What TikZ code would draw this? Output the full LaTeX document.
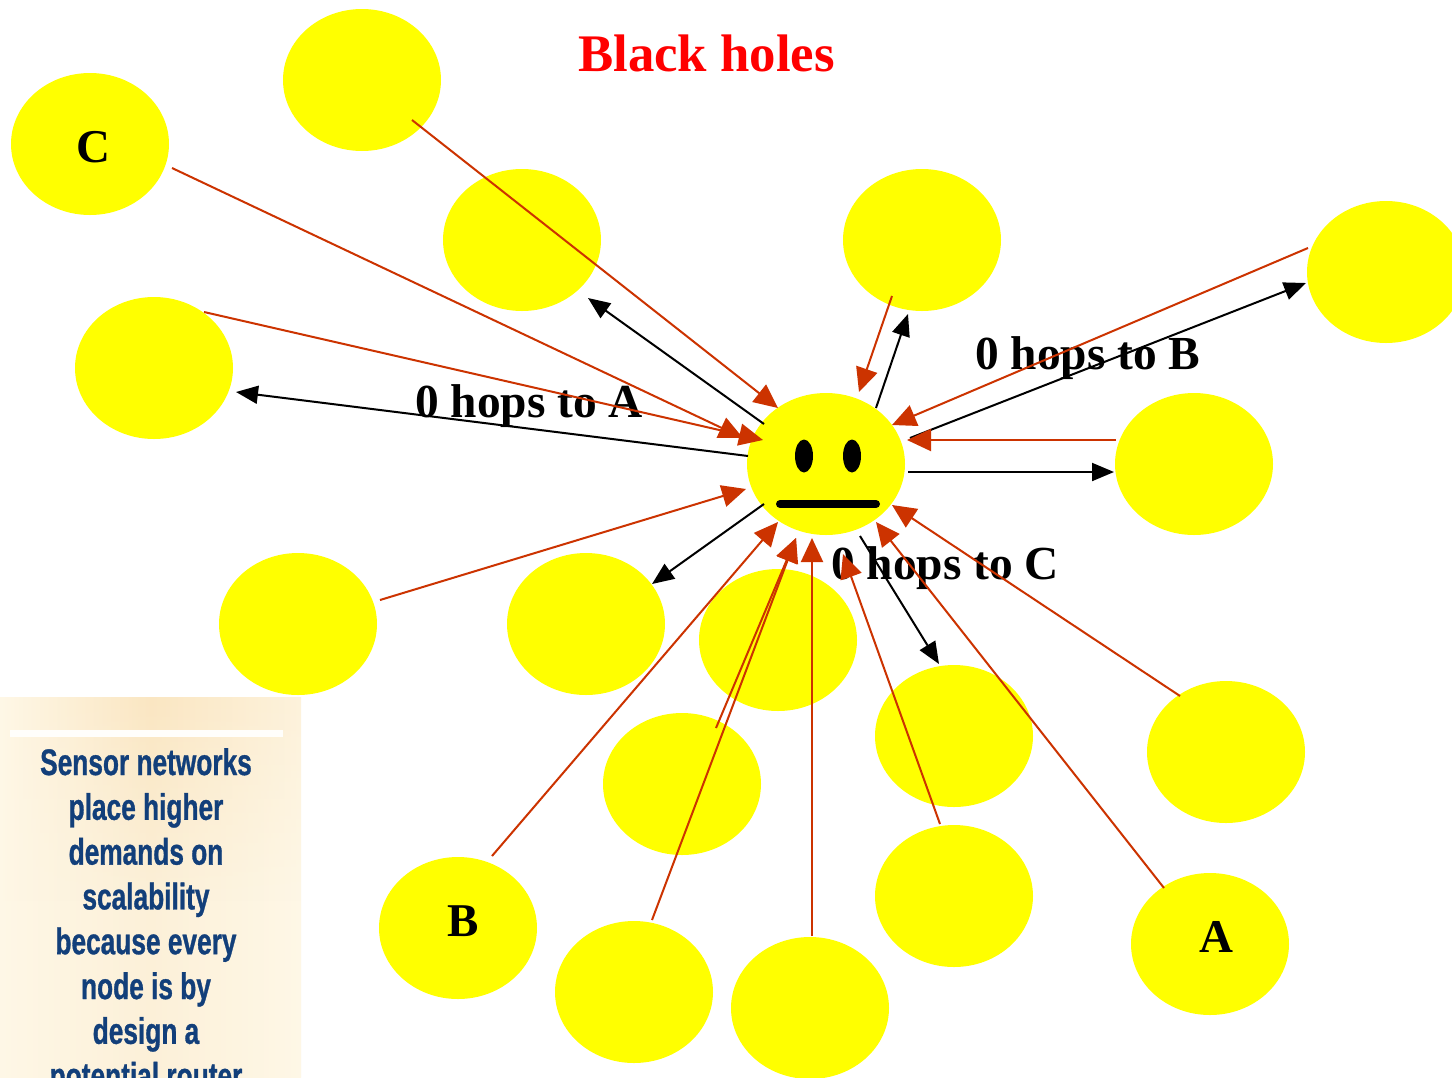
\documentclass[tikz,border=0pt]{standalone}
\usepackage{fontspec}
\setmainfont{Liberation Serif}
\newfontfamily\panelfont[FakeStretch=0.71,FakeBold=0.8,UprightFont=* Bold]{Liberation Sans}
\usetikzlibrary{shapes.geometric,arrows.meta,calc,fadings}
\definecolor{blobyellow}{RGB}{255,255,0}
\definecolor{titlered}{RGB}{255,0,0}
\definecolor{arrowred}{HTML}{CC3300}
\definecolor{panelblue}{HTML}{123F7A}
\definecolor{creamA}{HTML}{FEF7E6}
\definecolor{creamM}{HTML}{FCF0D8}
\definecolor{creamB}{HTML}{FAE6C2}
\tikzset{
  x=1pt,y=-1pt,
  blob/.style={ellipse,fill=blobyellow,draw=none,minimum width=158pt,minimum height=142pt,inner sep=0pt},
  eye/.style={ellipse,fill=black,draw=none,minimum width=18pt,minimum height=33pt,inner sep=0pt},
  redarrow/.style={draw=arrowred,line width=2pt,-{Triangle[length=24pt,width=22pt,fill=arrowred]}},
  blackarrow/.style={draw=black,line width=2pt,-{Triangle[length=22pt,width=18pt,fill=black]}},
  letterlabel/.style={anchor=base,inner sep=0pt,font=\bfseries\fontsize{47}{47}\selectfont},
  hoplabel/.style={anchor=base west,inner sep=0pt,font=\bfseries\fontsize{47.4}{47.4}\selectfont,text=black},
  titlelabel/.style={anchor=base west,inner sep=0pt,font=\bfseries\fontsize{52.8}{52.8}\selectfont,text=titlered},
  paneltext/.style={align=center,anchor=north,inner sep=0pt,text=panelblue,font=\panelfont\fontsize{37}{44.8}\selectfont}
}
\begin{document}
\begin{tikzpicture}
\path[use as bounding box,clip] (0,0) rectangle (1452,1077);
\fill[white] (0,0) rectangle (1452,1077);
% side panel
\shade[left color=creamA,right color=creamA,middle color=creamM] (0,697) rectangle (301,1077);
\shade[left color=creamA,right color=creamA!70!creamB,middle color=creamB,path fading=south,fit fading=true] (0,697) rectangle (301,900);
\fill[white!85!creamA] (10,730) rectangle (283,737);
\node[paneltext] (panel) at (146,748) {Sensor networks\\place higher\\demands on\\scalability\\because every\\node is by\\design a\\potential router};
% nodes
\node[blob] (top) at (362,80) {};
\node[blob] (c) at (90,144) {};
\node[blob] (n1) at (522,240) {};
\node[blob] (n2) at (922,240) {};
\node[blob] (n3) at (1386,272) {};
\node[blob] (n4) at (154,368) {};
\node[blob] (hub) at (826,464) {};
\node[blob] (n5) at (1194,464) {};
\node[blob] (n6) at (298,624) {};
\node[blob] (n7) at (586,624) {};
\node[blob] (n8) at (778,640) {};
\node[blob] (n9) at (682,784) {};
\node[blob] (n10) at (954,736) {};
\node[blob] (n11) at (1226,752) {};
\node[blob] (n12) at (954,896) {};
\node[blob] (b) at (458,928) {};
\node[blob] (n13) at (634,992) {};
\node[blob] (n14) at (810,1008) {};
\node[blob] (a) at (1210,944) {};
% node letters
\node[letterlabel] (lc) at (93,162) {C};
\node[letterlabel] (lb) at (463,936) {B};
\node[letterlabel] (la) at (1216,952) {A};
% face
\node[eye] (eyeL) at (804,456) {};
\node[eye] (eyeR) at (852,456) {};
\coordinate (mouthL) at (780,504);
\coordinate (mouthR) at (876,504);
\draw[line width=8pt,line cap=round] (mouthL) -- (mouthR);
% labels
\node[titlelabel] (title) at (578,71) {Black holes};
\node[hoplabel] (hopA) at (415,417) {0 hops to A};
\node[hoplabel] (hopB) at (975,369) {0 hops to B};
\node[hoplabel] (hopC) at (831,579) {0 hops to C};
% black arrows
\draw[blackarrow] ($(hub)+(-62,-40)$) -- ($(n1)+(66,58)$);
\draw[blackarrow] ($(hub)+(-78,-8)$) -- ($(n4)+(82,24)$);
\draw[blackarrow] ($(hub)+(50,-56)$) -- ($(n2)+(-14,74)$);
\draw[blackarrow] ($(hub)+(84,-26)$) -- ($(n3)+(-80,11)$);
\draw[blackarrow] ($(hub)+(82,8)$) -- ($(n5)+(-80,8)$);
\draw[blackarrow] ($(hub)+(34,72)$) -- ($(n10)+(-15,-72)$);
\draw[blackarrow] ($(hub)+(-62,40)$) -- ($(n7)+(66,-40)$);
% red arrows
\draw[redarrow] ($(top)+(50,40)$) -- ($(hub)+(-48,-56)$);
\draw[redarrow] ($(c)+(82,24)$) -- ($(hub)+(-83,-26)$);
\draw[redarrow] ($(n4)+(50,-56)$) -- ($(hub)+(-63,-24)$);
\draw[redarrow] ($(n2)+(-30,56)$) -- ($(hub)+(33,-72)$);
\draw[redarrow] ($(n3)+(-78,-24)$) -- ($(hub)+(66,-39)$);
\draw[redarrow] ($(n5)+(-78,-24)$) -- ($(hub)+(81,-24)$);
\draw[redarrow] ($(n6)+(82,-24)$) -- ($(hub)+(-80,25)$);
\draw[redarrow] ($(b)+(34,-72)$) -- ($(hub)+(-48,58)$);
\draw[redarrow] ($(n9)+(34,-56)$) -- ($(hub)+(-30,74)$);
\draw[redarrow] ($(n13)+(18,-72)$) -- ($(hub)+(-30,74)$);
\draw[redarrow] ($(n14)+(2,-72)$) -- ($(hub)+(-14,74)$);
\draw[redarrow] ($(n12)+(-14,-72)$) -- ($(hub)+(17,90)$);
\draw[redarrow] ($(a)+(-46,-56)$) -- ($(hub)+(50,58)$);
\draw[redarrow] ($(n11)+(-46,-56)$) -- ($(hub)+(66,41)$);
\end{tikzpicture}
\end{document}
